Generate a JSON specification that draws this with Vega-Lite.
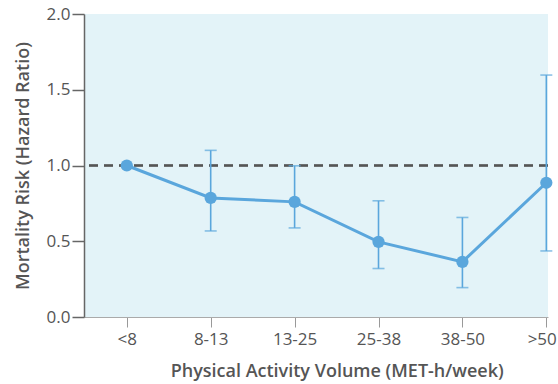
{
  "$schema": "https://vega.github.io/schema/vega-lite/v6.json",
  "width": 464,
  "height": 303,
  "autosize": "none",
  "padding": {"left": 84, "top": 14, "right": 10, "bottom": 67},
  "background": "white",
  "config": {
    "view": {"fill": "#e3f3f8", "stroke": null},
    "font": "Open Sans"
  },
  "data": {
    "values": [
      {"idx": 0, "group": "<8", "hr": 1.0, "lo": null, "hi": null},
      {"idx": 1, "group": "8-13", "hr": 0.786, "lo": 0.568, "hi": 1.1},
      {"idx": 2, "group": "13-25", "hr": 0.76, "lo": 0.588, "hi": 0.998},
      {"idx": 3, "group": "25-38", "hr": 0.496, "lo": 0.32, "hi": 0.767},
      {"idx": 4, "group": "38-50", "hr": 0.364, "lo": 0.194, "hi": 0.657},
      {"idx": 5, "group": ">50", "hr": 0.886, "lo": 0.436, "hi": 1.597}
    ]
  },
  "encoding": {
    "x": {
      "field": "idx",
      "type": "quantitative",
      "scale": {"domain": [-0.51, 5.02], "nice": false, "zero": false},
      "axis": {
        "title": "Physical Activity Volume (MET-h/week)",
        "values": [0, 1, 2, 3, 4, 5],
        "labelExpr": "['<8','8-13','13-25','25-38','38-50','>50'][datum.value]",
        "grid": false,
        "domainColor": "#aaaaaa",
        "tickColor": "#999999",
        "tickSize": 10,
        "labelPadding": 4,
        "labelFontSize": 17,
        "labelColor": "#555555",
        "labelFlush": 5,
        "labelFlushOffset": 10,
        "titleFontSize": 18,
        "titleFontWeight": 600,
        "titleColor": "#555555",
        "titleX": 252.7,
        "titleY": 59,
        "titleBaseline": "alphabetic"
      }
    }
  },
  "layer": [
    {
      "mark": {"type": "rule", "color": "#555555", "strokeDash": [9, 6], "strokeWidth": 1.5},
      "encoding": {"y": {"datum": 1}, "x": null}
    },
    {
      "transform": [{"filter": "datum.lo != null"}],
      "mark": {"type": "errorbar", "color": "#5aa6dc", "thickness": 1.6, "ticks": {"size": 12, "thickness": 1.6}},
      "encoding": {
        "y": {"field": "lo", "type": "quantitative", "title": "Mortality Risk (Hazard Ratio)"},
        "y2": {"field": "hi"}
      }
    },
    {
      "mark": {"type": "line", "color": "#5aa6dc", "strokeWidth": 3},
      "encoding": {
        "y": {
          "field": "hr",
          "type": "quantitative",
          "title": "Mortality Risk (Hazard Ratio)",
          "scale": {"domain": [0, 2], "nice": false},
          "axis": {
            "values": [0, 0.5, 1, 1.5, 2],
            "format": ".1f",
            "grid": false,
            "domainColor": "#666666",
            "domainWidth": 1.5,
            "tickColor": "#666666",
            "tickWidth": 1.5,
            "tickSize": 12,
            "labelPadding": 2,
            "labelFontSize": 17,
            "labelColor": "#555555",
            "labelFlush": false,
            "titleFontSize": 18,
            "titleFontWeight": 600,
            "titleColor": "#555555",
            "titleX": -56,
            "titleBaseline": "alphabetic"
          }
        }
      }
    },
    {
      "mark": {"type": "circle", "color": "#5aa6dc", "opacity": 1, "size": 150},
      "encoding": {"y": {"field": "hr", "type": "quantitative", "title": "Mortality Risk (Hazard Ratio)"}}
    }
  ]
}
